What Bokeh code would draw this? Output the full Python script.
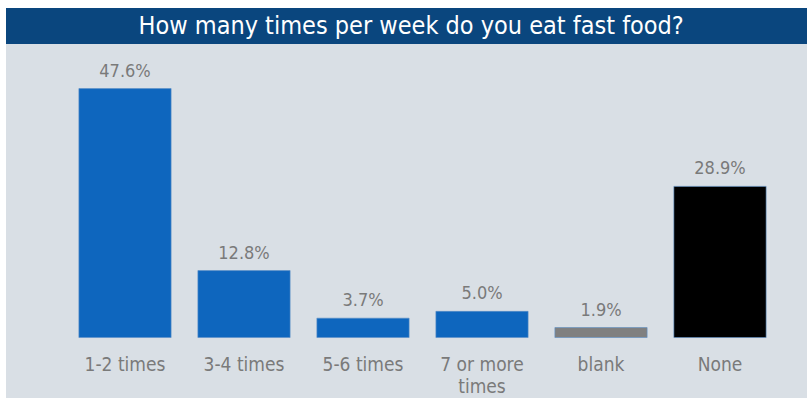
from bokeh.plotting import figure
from bokeh.models import ColumnDataSource, FactorRange, Range1d, Title
from bokeh.layouts import column
from bokeh.embed import file_html
from bokeh.resources import INLINE
from bokeh.core.properties import value

title_text = "How many times per week do you eat fast food?"
categories = ["1-2 times", "3-4 times", "5-6 times", "7 or more times", "blank", "None"]
axis_labels = ["1-2 times", "3-4 times", "5-6 times", "7 or more\ntimes", "blank", "None"]
percent = [47.6, 12.8, 3.7, 5.0, 1.9, 28.9]
bar_colors = ["#0E66BE", "#0E66BE", "#0E66BE", "#0E66BE", "#808080", "#000000"]

src = ColumnDataSource(dict(
    cat=categories,
    val=percent,
    lab=[f"{v:.1f}%" for v in percent],
    axlab=axis_labels,
    color=bar_colors,
    zero=[0] * len(categories),
))

PANEL = "#D9DFE5"
BAND = "#0A467E"
FONT = "DejaVu Sans Condensed"

# header band
h = figure(width=801, height=36, output_backend="svg", toolbar_location=None,
           min_border=0, background_fill_color=None, border_fill_color=None,
           outline_line_color=None, x_range=Range1d(0, 1), y_range=Range1d(0, 1))
h.styles = {"background-color": BAND}
h.title = Title(text=title_text, align="left", text_color="white",
                text_font_size="25px", text_font=FONT, text_font_style="normal",
                standoff=0, offset=73)
h.xaxis.visible = False
h.yaxis.visible = False
h.xgrid.visible = False
h.ygrid.visible = False

p = figure(
    width=801, height=354, title=None,
    x_range=FactorRange(*categories, range_padding=0),
    y_range=Range1d(-11.66, 56.03),
    output_backend="svg", toolbar_location=None,
    min_border_left=59, min_border_right=28, min_border_top=0, min_border_bottom=0,
    background_fill_color=None, border_fill_color=None,
    outline_line_color=None,
)
p.styles = {"background-color": PANEL}

p.vbar(x="cat", top="val", bottom=0, width=0.775, source=src,
       fill_color="color", line_color="#5A8FC8", line_width=0.6)

p.text(x="cat", y="val", text="lab", source=src, text_align="center",
       text_baseline="bottom", y_offset=-8, text_color="#7A7A7A",
       text_font=value(FONT), text_font_size="18px")

p.text(x="cat", y="zero", text="axlab", source=src, text_align="center",
       text_baseline="top", y_offset=15, text_color="#7A7A7A",
       text_font=value(FONT), text_font_size="19px", text_line_height=1.0)

p.xaxis.visible = False
p.yaxis.visible = False
p.xgrid.visible = False
p.ygrid.visible = False

layout = column(h, p, spacing=0, margin=(8, 0, 0, 6))
layout.styles = {"background-color": PANEL}

open("out.html", "w").write(file_html(layout, INLINE))
